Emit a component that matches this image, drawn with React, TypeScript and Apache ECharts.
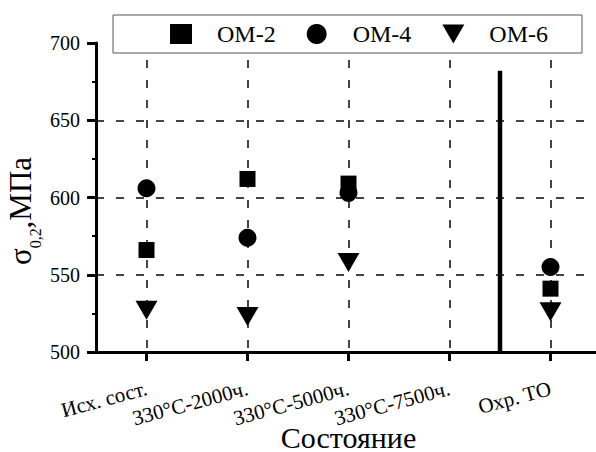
import React, { useEffect, useRef } from 'react';
import * as echarts from 'echarts';

const categories = ['Исх. сост.', '330°С-2000ч.', '330°С-5000ч.', '330°С-7500ч.', 'Охр. ТО'];
const categoryPositions = [1, 2, 3, 4, 5];
const measuredPositions = [1, 2, 3, 5];
const om2Values = [566, 612, 609, 541];
const om4Values = [606, 574, 603, 555];
const om6Values = [527, 523, 558, 526];
const dividerX = 4.5;
const dividerRange = [500, 682];
const seriesNames = ['ОМ-2', 'ОМ-4', 'ОМ-6'];

const FONT = '"Liberation Serif", "Times New Roman", Times, serif';

export default function App() {
  const ref = useRef<HTMLDivElement>(null);
  useEffect(() => {
    if (!ref.current) return;
    const chart = echarts.init(ref.current, undefined, { renderer: 'svg' });
    const pts = (vals: number[]) => measuredPositions.map((x, i) => [x, vals[i]]);
    const option: any = {
      animation: false,
      backgroundColor: '#fff',
      grid: { left: 96, top: 43, right: -5, bottom: 100, containLabel: false, outerBoundsMode: 'none' },
      legend: {
        data: [
          { name: seriesNames[0], icon: 'rect' },
          { name: seriesNames[1], icon: 'circle' },
          { name: seriesNames[2], icon: 'path://M0,0L22,0L11,19Z' },
        ],
        left: 113,
        top: 15,
        orient: 'horizontal',
        itemWidth: 22,
        itemHeight: 20,
        itemGap: 31,
        padding: [7, 34, 7, 57],
        borderColor: '#555',
        borderWidth: 1,
        borderRadius: 0,
        backgroundColor: '#fff',
        itemStyle: { color: '#000', opacity: 1 },
        textStyle: { fontSize: 24, fontFamily: FONT, color: '#000', padding: [0, 0, 0, 20] },
      },
      xAxis: {
        type: 'value',
        min: 0.5,
        max: 5.5,
        axisLine: { show: true, onZero: false, lineStyle: { color: '#000', width: 3 } },
        axisTick: { show: true, customValues: categoryPositions, length: 9, lineStyle: { color: '#000', width: 3 } },
        axisLabel: {
          customValues: categoryPositions,
          formatter: (v: number) => (Number.isInteger(v) ? categories[v - 1] ?? '' : ''),
          rotate: 15,
          margin: 36,
          fontSize: 21,
          fontFamily: FONT,
          color: '#000',
        },
        splitLine: { show: true, lineStyle: { type: [8, 12], dashOffset: 3, color: '#444', width: 2 } },
        name: 'Состояние',
        nameLocation: 'middle',
        nameGap: 70,
        nameMoveOverlap: false,
        nameTextStyle: { fontSize: 30, fontFamily: FONT, color: '#000' },
      },
      yAxis: {
        type: 'value',
        min: 500,
        max: 700,
        interval: 50,
        axisLine: { show: true, lineStyle: { color: '#000', width: 3 } },
        axisTick: { show: true, length: 9, lineStyle: { color: '#000', width: 3 } },
        minorTick: { show: true, splitNumber: 2, length: 4, lineStyle: { color: '#000', width: 2 } },
        axisLabel: { fontSize: 20, margin: 16, fontFamily: FONT, color: '#000' },
        splitLine: { show: true, showMaxLine: false, showMinLine: false, lineStyle: { type: [8, 12], color: '#444', width: 2 } },
        name: '{m|σ}{s|0,2}{m|,МПа}',
        nameLocation: 'middle',
        nameGap: 53,
        nameMoveOverlap: false,
        nameTextStyle: {
          padding: [0, 27, 0, 0],
          rich: {
            m: { fontSize: 31, fontFamily: FONT, color: '#000', lineHeight: 46 },
            s: { fontSize: 16, fontFamily: FONT, color: '#000', lineHeight: 15, verticalAlign: 'bottom' },
          },
        },
      },
      series: [
        {
          name: seriesNames[0],
          type: 'scatter',
          symbol: 'rect',
          symbolSize: 16,
          itemStyle: { color: '#000', opacity: 1 },
          data: pts(om2Values),
          z: 3,
        },
        {
          name: seriesNames[1],
          type: 'scatter',
          symbol: 'circle',
          symbolSize: 18,
          itemStyle: { color: '#000', opacity: 1 },
          data: pts(om4Values),
          z: 3,
        },
        {
          name: seriesNames[2],
          type: 'scatter',
          symbol: 'triangle',
          symbolRotate: 180,
          symbolSize: [22, 19],
          itemStyle: { color: '#000', opacity: 1 },
          data: pts(om6Values),
          z: 3,
        },
        {
          name: 'divider',
          type: 'line',
          symbol: 'none',
          silent: true,
          lineStyle: { color: '#000', width: 4.5 },
          data: dividerRange.map((y) => [dividerX, y]),
          z: 2,
        },
      ],
    };
    chart.setOption(option);
    return () => chart.dispose();
  }, []);
  return <div ref={ref} style={{ position: 'fixed', left: 0, top: 0, width: 596, height: 452 }} />;
}
